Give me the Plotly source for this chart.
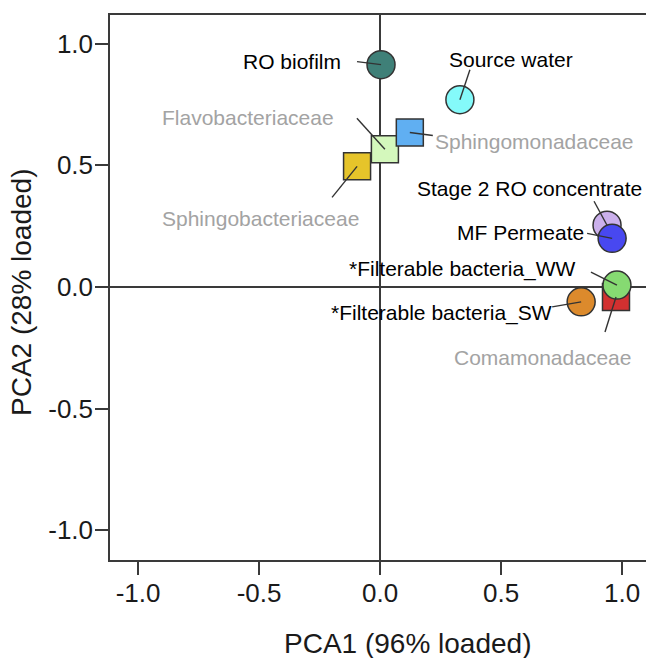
import plotly.graph_objects as go

# ---- data ----
names = ["Sphingobacteriaceae", "Flavobacteriaceae", "Sphingomonadaceae",
         "RO biofilm", "Source water", "Stage 2 RO concentrate", "MF Permeate",
         "Comamonadaceae", "*Filterable bacteria_WW", "*Filterable bacteria_SW"]
pca1 = [-0.095, 0.020, 0.123, 0.004, 0.330, 0.938, 0.959, 0.975, 0.979, 0.831]
pca2 = [0.496, 0.566, 0.635, 0.914, 0.770, 0.254, 0.200, -0.041, 0.008, -0.061]
kinds = ["family", "family", "family", "sample", "sample", "sample", "sample",
         "family", "sample", "sample"]
x_ticks = [-1.0, -0.5, 0.0, 0.5, 1.0]
y_ticks = [-1.0, -0.5, 0.0, 0.5, 1.0]
x_title = "PCA1 (96% loaded)"
y_title = "PCA2 (28% loaded)"

# ---- styles ----
fill_colors = ["#e6c42a", "#d4f8bc", "#60aff2", "#3f8078", "#84fafa",
               "#cbb0ec", "#4848f0", "#d23030", "#86da72", "#dc8a2c"]
symbol_for = {"family": "square", "sample": "circle"}
text_color_for = {"family": "#a3a3a3", "sample": "#000000"}

# label placement (pixels relative to marker centre): xanchor, xshift, yshift
label_pos = [("center", -97, -52), ("center", -137, 32), ("left", 23, -9),
             ("right", -38, 3), ("center", 51, 40), ("right", 37, 37),
             ("right", -26, 6), ("center", -73, -61), ("right", -39, 16),
             ("right", -27, -11)]
# leader line start (pixels relative to marker centre, +y downward on screen)
leader_off = [(-25, 31), (-28, -31), (23, 3), (-24, -3), (10, -30), (-13, -24),
              (-25, -5), (-11, 35), (-26, -13), (-29, 5)]

W, H = 646, 658
ml, mr, mt, mb = 110, 0, 15, 98
xr = [-1.116, 1.099]
yr = [-1.122, 1.118]
pw, ph = W - ml - mr, H - mt - mb
pxx = pw / (xr[1] - xr[0])
pxy = ph / (yr[1] - yr[0])

FONT = "Liberation Sans, Arial, sans-serif"
AXC = "#3a3a3a"
TXT = "#1a1a1a"

fig = go.Figure()
fig.add_trace(go.Scatter(
    x=pca1, y=pca2, mode="markers",
    marker=dict(symbol=[symbol_for[k] for k in kinds],
                size=[27 if k == "family" else 28 for k in kinds],
                color=fill_colors, opacity=1,
                line=dict(color="#333333", width=1.5)),
    hoverinfo="text", text=names, showlegend=False, cliponaxis=False))

lx, ly = [], []
for xv, yv, (dx, dy) in zip(pca1, pca2, leader_off):
    lx += [xv + dx / pxx, xv, None]
    ly += [yv - dy / pxy, yv, None]
fig.add_trace(go.Scatter(x=lx, y=ly, mode="lines",
                         line=dict(color="#333333", width=1.4),
                         hoverinfo="skip", showlegend=False))

for n, xv, yv, k, (xa, xs, ys) in zip(names, pca1, pca2, kinds, label_pos):
    fig.add_annotation(x=xv, y=yv, text=n, showarrow=False, xanchor=xa,
                       yanchor="middle", xshift=xs, yshift=ys,
                       font=dict(family=FONT, size=21, color=text_color_for[k]))

# axis titles (placed in paper coordinates, as in the cropped original)
fig.add_annotation(xref="paper", yref="paper", x=(407 - ml) / pw,
                   y=-(643 - (H - mb)) / ph, text=x_title, showarrow=False,
                   xanchor="center", yanchor="middle",
                   font=dict(family=FONT, size=28, color=TXT))
fig.add_annotation(xref="paper", yref="paper", x=(22 - ml) / pw,
                   y=((H - mb) - 293) / ph, text=y_title, showarrow=False,
                   textangle=-90, xanchor="center", yanchor="middle",
                   font=dict(family=FONT, size=28, color=TXT))

axis_common = dict(showgrid=False, zeroline=True, zerolinecolor=AXC,
                   zerolinewidth=1.5, showline=True, linecolor=AXC, linewidth=1.5,
                   ticks="outside", ticklen=13, tickwidth=1.5, tickcolor=AXC,
                   tickfont=dict(family=FONT, size=26, color=TXT))

fig.update_layout(
    width=W, height=H, margin=dict(l=ml, r=mr, t=mt, b=mb),
    plot_bgcolor="white", paper_bgcolor="white",
    xaxis=dict(range=xr, tickvals=x_ticks, ticktext=["%.1f" % v for v in x_ticks],
               mirror=True, ticklabelstandoff=-4, **axis_common),
    yaxis=dict(range=yr, tickvals=y_ticks, ticktext=["%.1f" % v for v in y_ticks],
               mirror=False, ticklabelstandoff=-3, **axis_common),
)

fig.write_html("out.html", config={"displayModeBar": False},
               post_script="document.body.style.margin='0';document.body.style.overflow='hidden';")
